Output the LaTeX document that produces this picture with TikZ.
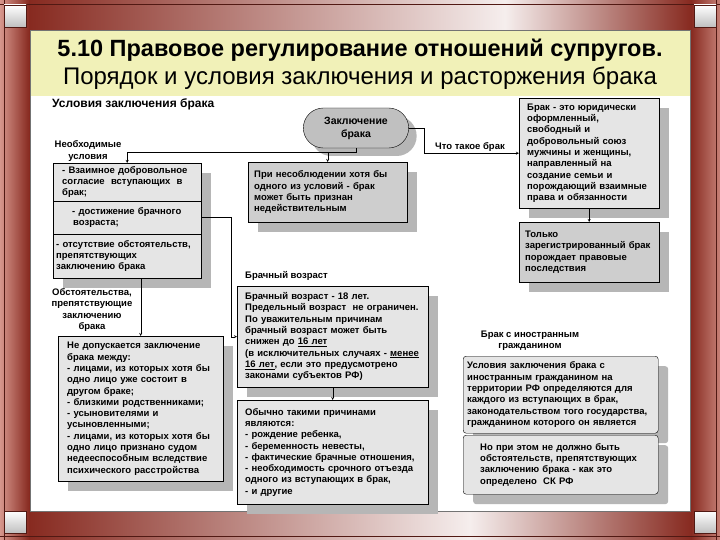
\documentclass[tikz,border=0pt]{standalone}
\usepackage{fontspec}
\setmainfont{Liberation Sans}
\usetikzlibrary{shadows,shapes.misc}

\definecolor{framedark}{RGB}{135,42,32}
\definecolor{framelight}{RGB}{214,150,140}
\definecolor{titleyellow}{RGB}{241,241,184}
\definecolor{boxgray}{RGB}{229,229,229}
\definecolor{deepgray}{RGB}{206,206,206}
\definecolor{shadowgray}{RGB}{182,182,182}
\definecolor{pillgray}{RGB}{192,192,192}

\begin{document}
\begin{tikzpicture}[x=1pt,y=-1pt,>=stealth,thin,
  box/.style={draw,fill=boxgray,anchor=north west,align=left,inner ysep=2pt,
    font=\bfseries\fontsize{9.5}{11.3}\selectfont,
    drop shadow={shadow xshift=10pt,shadow yshift=-10pt,fill=shadowgray,opacity=1}},
  pill node/.style={rounded rectangle,draw,fill=pillgray,minimum width=112pt,minimum height=40pt,
    align=center,font=\bfseries\fontsize{10.5}{13}\selectfont,
    drop shadow={shadow xshift=8pt,shadow yshift=-8pt,fill=shadowgray,opacity=1}},
  note/.style={align=center,inner sep=0pt,font=\bfseries\fontsize{9.5}{11.3}\selectfont}]

\useasboundingbox (0,0) rectangle (720,540);

% frame
\fill[framedark] (0,0) rectangle (720,540);
\shade[left color=framelight,right color=framedark] (0,0) rectangle (29,540);
\shade[left color=framedark,right color=framelight!80!framedark] (691,0) rectangle (720,540);
\shade[left color=framedark,right color=white!92!framedark] (29,0) rectangle (505,30);
\shade[left color=white!92!framedark,right color=framedark] (505,0) rectangle (691,30);
\shade[left color=framedark,right color=white!92!framedark] (29,511) rectangle (470,540);
\shade[left color=white!92!framedark,right color=framedark] (470,511) rectangle (691,540);
\draw[framedark!60!black] (0,4) -- (720,4) (0,536) -- (720,536)
  (4,0) -- (4,540) (716,0) -- (716,540);
\foreach \cx/\cy in {4/5,694/5,4/511,694/511}
  \shade[top color=white,bottom color=black!25,draw=framedark!60!black] (\cx,\cy) rectangle ++(22,22);

% slide area
\fill[titleyellow] (30,30) rectangle (690,96);
\fill[white] (30,96) rectangle (690,511);
\draw[black!55] (30,30) rectangle (690,511);

\node[font=\bfseries\fontsize{23.5}{27}\selectfont] (title) at (360,50) {5.10 Правовое регулирование отношений супругов.};
\node[font=\fontsize{24}{27}\selectfont] (subtitle) at (360,78) {Порядок и условия заключения и расторжения брака};

\node[anchor=west,inner sep=0pt,font=\bfseries\fontsize{12}{14}\selectfont] (condhead) at (52,104) {Условия заключения брака};

% central node
\node[pill node] (pill) at (356,128) {Заключение\\брака};

% conditions
\node[note] (needed) at (88,151) {Необходимые\\условия};
\node[box,inner xsep=9pt,text width=130pt,minimum height=38pt] (cond1) at (53,163)
  {- Взаимное добровольное\\согласие\ \ вступающих\ \ в\\брак;};
\node[box,inner xsep=6pt,text width=136pt,minimum height=33pt] (cond2) at (53,201)
  {\hspace*{13pt}- достижение брачного\\\hspace*{14pt}возраста;};
\node[box,inner xsep=3pt,text width=142pt,minimum height=44pt] (cond3) at (53,234)
  {- отсутствие обстоятельств,\\препятствующих\\заключению брака};

\node[box,fill=deepgray,inner xsep=6pt,text width=147pt,minimum height=60pt] (invalid) at (248,162)
  {При несоблюдении хотя бы\\одного из условий - брак\\может быть признан\\недействительным};

% obstacles
\node[note] (obstacles) at (92,310) {Обстоятельства,\\препятствующие\\заключению\\брака};
\node[box,inner xsep=9pt,text width=147pt,minimum height=145pt] (banned) at (58,336)
  {Не допускается заключение\\брака между:\\- лицами, из которых хотя бы\\одно лицо уже состоит в\\другом браке;\\- близкими родственниками;\\- усыновителями и\\усыновленными;\\- лицами, из которых хотя бы\\одно лицо признано судом\\недееспособным вследствие\\психического расстройства};

% marriage age
\node[note,anchor=west] (agehead) at (245,276) {Брачный возраст};
\node[box,inner xsep=4pt,text width=183pt,minimum height=101pt] (age) at (237,286)
  {\hspace*{4pt}Брачный возраст - 18 лет.\\\hspace*{4pt}Предельный возраст\ \ не ограничен.\\\hspace*{4pt}По уважительным причинам\\\hspace*{4pt}брачный возраст может быть\\\hspace*{4pt}снижен до \underline{16 лет}\\\hspace*{4pt}(в исключительных случаях -\ \underline{менее}\\\hspace*{4pt}\underline{16 лет}, если это предусмотрено\\\hspace*{4pt}законами субъектов РФ)};
\node[box,inner xsep=8pt,text width=175pt,minimum height=104pt] (reasons) at (237,400)
  {Обычно такими причинами\\являются:\\- рождение ребенка,\\- беременность невесты,\\- фактические брачные отношения,\\- необходимость срочного отъезда\\одного из вступающих в брак,\\- и другие};

% definition
\node[box,inner xsep=8pt,text width=124pt,minimum height=110pt] (defn) at (519,98)
  {Брак - это юридически\\оформленный,\\свободный и\\добровольный союз\\мужчины и женщины,\\направленный на\\создание семьи и\\порождающий взаимные\\права и обязанности};
\node[box,fill=deepgray,inner xsep=6pt,text width=128pt,minimum height=60pt] (only) at (519,222)
  {Только\\зарегистрированный брак\\порождает правовые\\последствия};
\node[note] (whatis) at (470,147) {Что такое брак};

% foreign citizen
\node[note] (foreignhead) at (530,341) {Брак с иностранным\\гражданином};
\node[box,rounded corners=3pt,inner xsep=4pt,text width=187pt,minimum height=77pt] (foreign1) at (463,356)
  {Условия заключения брака с\\иностранным гражданином на\\территории РФ определяются для\\каждого из вступающих в брак,\\законодательством того государства,\\гражданином которого он является};
\node[box,rounded corners=3pt,inner xsep=17pt,text width=161pt,minimum height=59pt] (foreign2) at (463,435)
  {Но при этом не должно быть\\обстоятельств, препятствующих\\заключению брака - как это\\определено\ \ СК РФ};

% connectors
\coordinate (fork) at (356,152);
\draw[->] (pill.south) -- (fork) -| (cond1.north);
\draw[->] (fork -| invalid.north) -- (invalid.north);
\draw[->] (pill.east) -- ++(15,0) |- (defn.west);
\draw[->] (defn.south) -- (only.north);
\draw[->] (cond2.east) -- ++(30,0) |- (age.west);
\draw[->] (cond3.south -| banned.north) -- (banned.north);
\draw[->] (age.south) -- (reasons.north);

\end{tikzpicture}
\end{document}
